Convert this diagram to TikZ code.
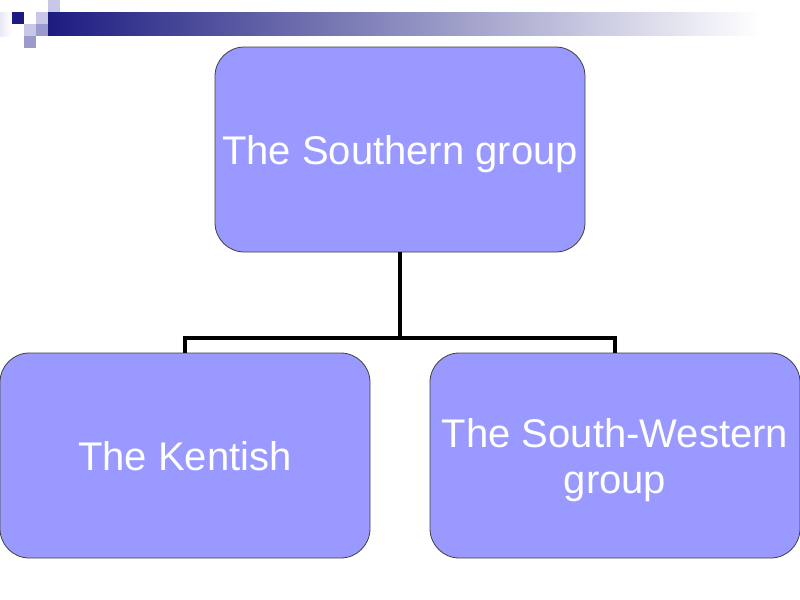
\documentclass[tikz,border=0pt]{standalone}
\usepackage{fontspec}
\setmainfont{Liberation Sans}
\begin{document}
\begin{tikzpicture}[x=0.75pt,y=-0.75pt,
  box/.style={draw=black!75, line width=0.6pt, fill=boxfill, rounded corners=22pt,
    text=white, font=\fontsize{30}{35}\selectfont, align=center, inner sep=0pt,
    minimum width=277.5pt, minimum height=153.75pt, text height=29pt, text depth=6.3pt},
  link/.style={line width=3.5pt}]
\definecolor{boxfill}{HTML}{9999FF}
\definecolor{navy}{HTML}{1C1C80}
\definecolor{sqA}{HTML}{C8C8E6}
\definecolor{sqB}{HTML}{9A9ACC}
\useasboundingbox (0,0) rectangle (800,600);
% header decoration
\shade[left color=navy, right color=white, shading angle=90] (48,12) rectangle (760,35);
\shade[left color=sqA!40, right color=white] (0,12) rectangle (12,36);
\fill[navy] (12,12) rectangle (24,24);
\fill[sqA] (36,12) rectangle (48,24);
\fill[sqA] (48,0) rectangle (60,12);
\fill[sqA] (24,24) rectangle (36,36);
\fill[sqB] (36,24) rectangle (48,36);
\fill[sqB] (24,36) rectangle (36,48);
% boxes
\node[box] (top) at (400,149.5) {The Southern group};
\node[box] (left) at (185,455.5) {The Kentish};
\node[box, text height=64pt] (right) at (615,455.5) {The South-Western\\group};
% connectors
\coordinate (mid) at (400,338);
\draw[link] (top.south) -- (mid);
\draw[link] (left.north) |- (mid) -| (right.north);
\end{tikzpicture}
\end{document}
